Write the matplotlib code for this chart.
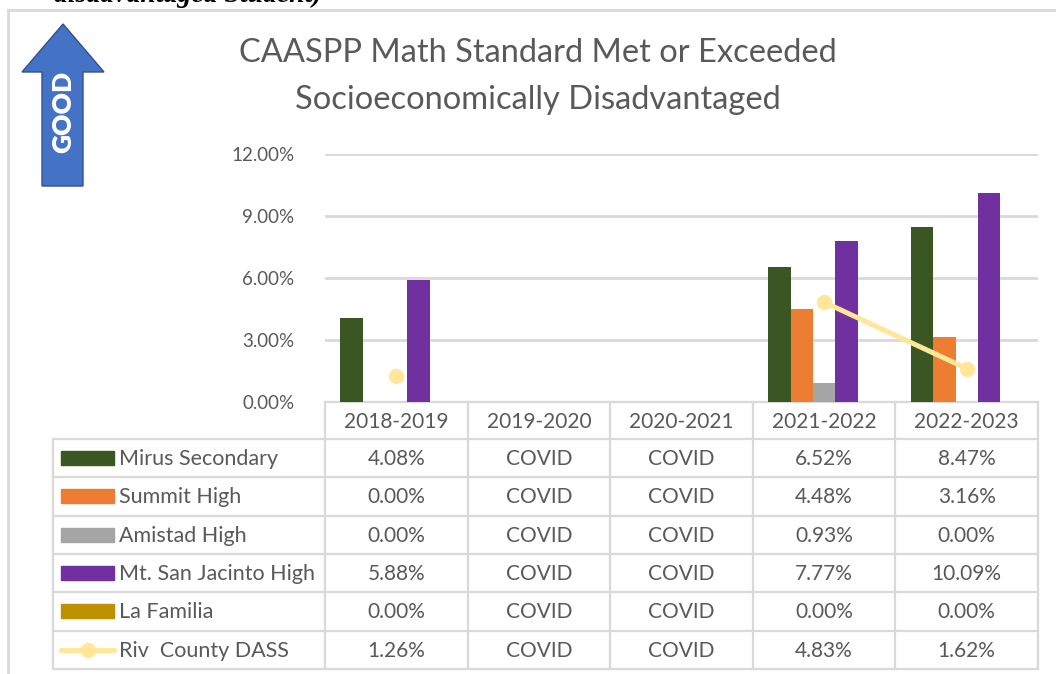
import numpy as np
import matplotlib
matplotlib.use("Agg")
import matplotlib.pyplot as plt
from matplotlib.patches import Polygon, Rectangle

plt.rcParams['font.family'] = ['Lato', 'DejaVu Sans']

# ---------------- data ----------------
categories = ['2018-2019', '2019-2020', '2020-2021', '2021-2022', '2022-2023']
series_names = ['Mirus Secondary', 'Summit High', 'Amistad High',
                'Mt. San Jacinto High', 'La Familia']
mirus = [4.08, np.nan, np.nan, 6.52, 8.47]
summit = [0.00, np.nan, np.nan, 4.48, 3.16]
amistad = [0.00, np.nan, np.nan, 0.93, 0.00]
msj = [5.88, np.nan, np.nan, 7.77, 10.09]
la_familia = [0.00, np.nan, np.nan, 0.00, 0.00]
line_name = 'Riv  County DASS'
riv_county = [1.26, np.nan, np.nan, 4.83, 1.62]
yticks = [0, 3, 6, 9, 12]
missing_label = 'COVID'
title_lines = ['CAASPP Math Standard Met or Exceeded', 'Socioeconomically Disadvantaged']

bar_series = [mirus, summit, amistad, msj, la_familia]
bar_colors = ['#3A5723', '#ED7D31', '#A5A5A5', '#7030A0', '#BF9000']
line_color = '#FFE699'
grid_color = '#D9D9D9'
text_color = '#595959'

W, H = 1056, 674
fig = plt.figure(figsize=(W / 100, H / 100), dpi=100)

# overlay axes in pixel coordinates (y downwards)
ov = fig.add_axes([0, 0, 1, 1], zorder=0)
ov.set_xlim(0, W)
ov.set_ylim(H, 0)
ov.axis('off')

# main plot area
px_l, px_r, px_top, px_bot = 325, 1038, 154, 402
ax = fig.add_axes([px_l / W, (H - px_bot) / H, (px_r - px_l) / W, (px_bot - px_top) / H], zorder=2)
ax.patch.set_alpha(0)

n = len(bar_series)
x = np.arange(len(categories))
bw = 0.157
for i, (vals, col) in enumerate(zip(bar_series, bar_colors)):
    ax.bar(x + (i - (n - 1) / 2) * bw, vals, width=bw, color=col, zorder=3)
ax.plot(x, riv_county, color=line_color, lw=3.6, marker='o', ms=10,
        solid_capstyle='round', zorder=4)

ax.set_xlim(-0.5, len(categories) - 0.5)
ax.set_ylim(0, 12)
ax.set_yticks(yticks)
ax.set_yticklabels([f'{v:.2f}%' for v in yticks], fontsize=13.5, color=text_color)
ax.tick_params(axis='y', length=0, pad=22)
ax.set_xticks([])
for s in ax.spines.values():
    s.set_visible(False)
ax.grid(axis='y', color=grid_color, lw=2, zorder=0)
ax.set_axisbelow(True)

# ---------------- data table ----------------
col_w = (px_r - px_l) / len(categories)
col_edges = [px_l + k * col_w for k in range(len(categories) + 1)]
tbl_left = 53
hdr_bot = 439
row_h = 38.3
n_rows = len(bar_series) + 1
row_edges = [hdr_bot + k * row_h for k in range(n_rows + 1)]
tbl_bot = row_edges[-1]
lw_t = 1.6
fs_tbl = 15

ov.plot([px_l, px_r], [px_bot, px_bot], color=grid_color, lw=lw_t)
for yv in row_edges:
    ov.plot([tbl_left, px_r], [yv, yv], color=grid_color, lw=lw_t)
for xv in col_edges:
    ov.plot([xv, xv], [px_bot, tbl_bot], color=grid_color, lw=lw_t)
ov.plot([tbl_left, tbl_left], [hdr_bot, tbl_bot], color=grid_color, lw=lw_t)

for k, c in enumerate(categories):
    ov.text((col_edges[k] + col_edges[k + 1]) / 2, (px_bot + hdr_bot) / 2 + 1, c,
            ha='center', va='center', fontsize=fs_tbl, color=text_color)

all_rows = list(zip(series_names, bar_series, bar_colors)) + [(line_name, riv_county, None)]
for r, (name, vals, col) in enumerate(all_rows):
    yc = (row_edges[r] + row_edges[r + 1]) / 2
    if col is not None:
        ov.add_patch(Rectangle((61, yc - 7), 53, 14, color=col))
    else:
        ov.plot([61, 114], [yc, yc], color=line_color, lw=3.6, solid_capstyle='round')
        ov.plot([87.5], [yc], marker='o', ms=10, color=line_color)
    ov.text(119, yc + 1, name, ha='left', va='center', fontsize=15.5, color=text_color)
    for k, v in enumerate(vals):
        s = missing_label if np.isnan(v) else f'{v:.2f}%'
        ov.text((col_edges[k] + col_edges[k + 1]) / 2, yc + 1, s,
                ha='center', va='center', fontsize=fs_tbl, color=text_color)

# ---------------- title ----------------
ov.text(538, 53, title_lines[0], ha='center', va='center', fontsize=23.5, color=text_color)
ov.text(538, 100, title_lines[1], ha='center', va='center', fontsize=23.5, color=text_color)

# ---------------- outer border ----------------
ov.plot([8, 8], [10, H], color=grid_color, lw=2)
ov.plot([8, W], [10, 10], color=grid_color, lw=2)

# ---------------- GOOD arrow ----------------
arrow_pts = [(42, 186), (42, 72), (22, 72), (63, 24), (104, 72), (83, 72), (83, 186)]
ov.add_patch(Polygon(arrow_pts, closed=True, facecolor='#4472C4', edgecolor='#2F528F', lw=1))
ov.text(63, 112, 'GOOD', rotation=90, ha='center', va='center', fontsize=19,
        fontweight='heavy', color='white')

# cropped caption at the very top (cut off in the reference too)
ov.text(322, 2, 'disadvantaged Student)', ha='right', va='baseline', fontsize=20,
        family=['Liberation Serif'], style='italic', fontweight='bold', color='black')

fig.savefig('out.png', dpi=100)
